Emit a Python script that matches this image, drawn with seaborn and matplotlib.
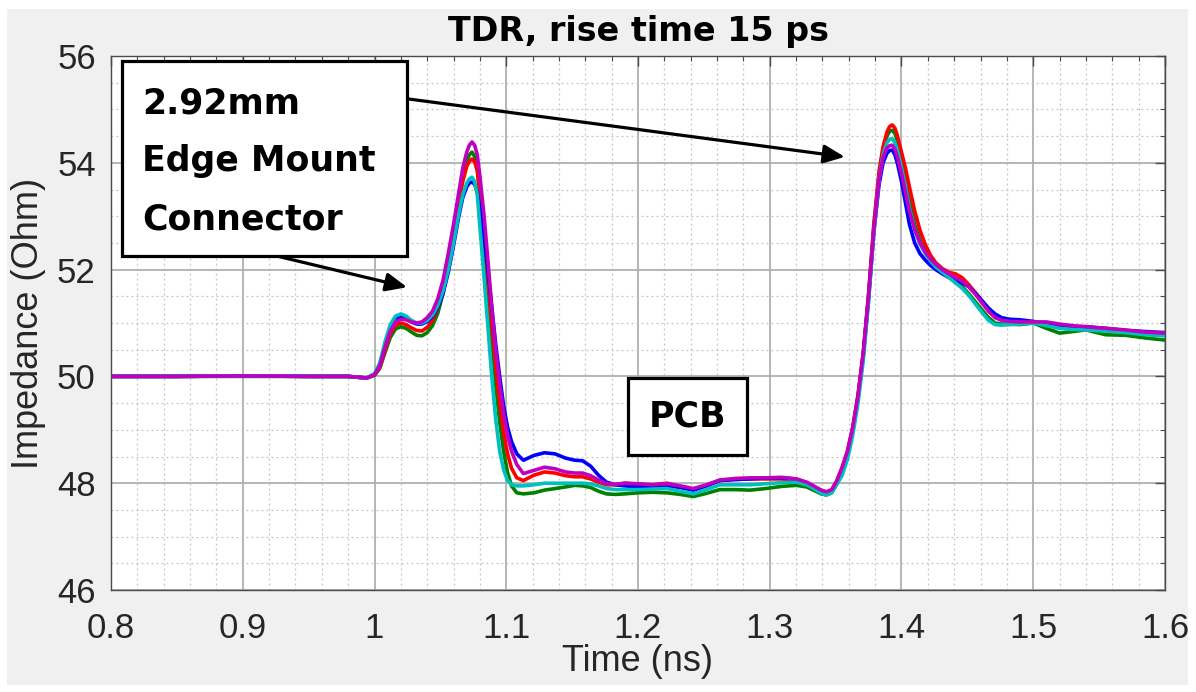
import numpy as np
import pandas as pd
import matplotlib
matplotlib.use("Agg")
import matplotlib.pyplot as plt
import seaborn as sns
from matplotlib.patches import Rectangle
from matplotlib.ticker import MultipleLocator

# ---------------- data ----------------
time_ns = [0.80, 0.85, 0.90, 0.95, 0.98, 0.994,
           1.000, 1.004, 1.008, 1.012, 1.016, 1.020, 1.024, 1.028, 1.032, 1.036,
           1.040, 1.044, 1.048, 1.052, 1.056, 1.060, 1.064, 1.067, 1.070, 1.072,
           1.074, 1.076, 1.078, 1.080, 1.083, 1.086, 1.089, 1.092, 1.095, 1.098,
           1.101, 1.104, 1.108, 1.113,
           1.121, 1.129, 1.137, 1.145, 1.152, 1.158, 1.164, 1.170, 1.176, 1.183,
           1.190, 1.200, 1.211, 1.222, 1.232, 1.242, 1.252, 1.262, 1.274, 1.285,
           1.297, 1.309, 1.320, 1.328, 1.334, 1.339, 1.343, 1.347, 1.351,
           1.355, 1.359, 1.363, 1.367, 1.371, 1.375, 1.379, 1.383, 1.386, 1.389,
           1.391, 1.393, 1.395, 1.397, 1.400, 1.403, 1.406, 1.410, 1.414, 1.418,
           1.422, 1.426, 1.431, 1.436, 1.441, 1.446, 1.451, 1.456, 1.461, 1.466,
           1.471, 1.476, 1.482, 1.490, 1.500,
           1.510, 1.520, 1.530, 1.540, 1.555, 1.570, 1.585, 1.600]

z_magenta = [50.0, 50.0, 50.01, 50.0, 50.0, 49.97,
             50.03, 50.2, 50.55, 50.85, 51.02, 51.07, 51.06, 51.02, 51.0, 51.02,
             51.1, 51.22, 51.45, 51.8, 52.3, 52.85, 53.45, 53.9, 54.2, 54.33,
             54.39, 54.33, 54.15, 53.75, 53.05, 52.2, 51.3, 50.5, 49.85, 49.3,
             48.9, 48.6, 48.35, 48.18,
             48.24, 48.3, 48.27, 48.21, 48.19, 48.19, 48.14, 48.06, 47.99, 47.98,
             48.0, 47.99, 47.97, 47.99, 47.95, 47.9, 47.97, 48.06, 48.09, 48.1,
             48.1, 48.11, 48.08, 48.02, 47.94, 47.87, 47.84, 47.88, 48.05,
             48.3, 48.6, 49.05, 49.65, 50.45, 51.5, 52.75, 53.7, 54.1, 54.28,
             54.32, 54.33, 54.25, 54.1, 53.8, 53.45, 53.1, 52.75, 52.5, 52.33,
             52.2, 52.1, 52.0, 51.92, 51.85, 51.78, 51.68, 51.54, 51.38, 51.22,
             51.1, 51.05, 51.03, 51.02, 51.02,
             51.02, 50.98, 50.95, 50.93, 50.9, 50.87, 50.83, 50.81]

z_cyan = [50.0, 50.0, 50.01, 50.0, 50.0, 49.97,
          50.05, 50.25, 50.65, 50.97, 51.13, 51.17, 51.13, 51.05, 51.0, 51.0,
          51.05, 51.15, 51.33, 51.6, 52.0, 52.5, 53.05, 53.4, 53.62, 53.7,
          53.73, 53.65, 53.4, 52.8, 51.9, 50.95, 50.0, 49.2, 48.6, 48.25,
          48.05, 47.97, 47.95, 47.95,
          47.97, 48.0, 48.0, 48.0, 48.0, 48.0, 47.99, 47.95, 47.9, 47.88,
          47.88, 47.88, 47.89, 47.9, 47.85, 47.8, 47.88, 47.97, 47.97, 47.97,
          47.99, 48.01, 48.02, 47.97, 47.89, 47.81, 47.78, 47.82, 47.98,
          48.15, 48.45, 48.9, 49.5, 50.3, 51.4, 52.7, 53.7, 54.15, 54.38,
          54.44, 54.45, 54.38, 54.22, 53.9, 53.55, 53.15, 52.75, 52.48, 52.3,
          52.16, 52.05, 51.95, 51.85, 51.75, 51.65, 51.52, 51.36, 51.2, 51.05,
          50.97, 50.96, 50.97, 50.98, 51.0,
          50.95, 50.9, 50.88, 50.87, 50.85, 50.82, 50.78, 50.76]

z_blue = [50.0, 50.0, 50.01, 50.0, 50.0, 49.97,
          50.04, 50.22, 50.6, 50.93, 51.08, 51.12, 51.09, 51.02, 50.98, 50.98,
          51.03, 51.12, 51.3, 51.55, 51.95, 52.45, 53.0, 53.35, 53.55, 53.62,
          53.64, 53.6, 53.45, 53.15, 52.65, 52.0, 51.3, 50.6, 50.0, 49.45,
          49.05, 48.78, 48.55, 48.43,
          48.52, 48.57, 48.55, 48.47, 48.43, 48.42, 48.32, 48.15, 48.02, 47.97,
          47.95, 47.93, 47.93, 47.95, 47.92, 47.87, 47.95, 48.05, 48.07, 48.08,
          48.1, 48.1, 48.08, 48.01, 47.93, 47.86, 47.83, 47.86, 48.02,
          48.25, 48.55, 49.0, 49.6, 50.4, 51.45, 52.7, 53.6, 54.0, 54.18,
          54.23, 54.24, 54.15, 53.98, 53.65, 53.25, 52.85, 52.5, 52.3, 52.18,
          52.08, 52.0, 51.92, 51.85, 51.8, 51.75, 51.68, 51.56, 51.42, 51.28,
          51.17, 51.1, 51.07, 51.06, 51.03,
          50.98, 50.95, 50.93, 50.93, 50.9, 50.86, 50.84, 50.82]

z_red = [50.0, 50.0, 50.01, 50.0, 50.0, 49.97,
         50.03, 50.17, 50.5, 50.8, 50.96, 51.0, 50.97, 50.91, 50.86, 50.85,
         50.92, 51.05, 51.28, 51.62, 52.1, 52.65, 53.25, 53.65, 53.93, 54.03,
         54.07, 54.02, 53.85, 53.4, 52.75, 51.9, 51.0, 50.2, 49.5, 48.95,
         48.55, 48.28, 48.1, 48.05,
         48.15, 48.21, 48.19, 48.14, 48.12, 48.12, 48.08, 48.02, 47.97, 47.97,
         48.0, 47.98, 47.97, 48.0, 47.94, 47.88, 47.96, 48.05, 48.07, 48.08,
         48.08, 48.08, 48.05, 48.0, 47.93, 47.86, 47.83, 47.87, 48.05,
         48.3, 48.6, 49.05, 49.65, 50.45, 51.55, 52.85, 53.85, 54.3, 54.58,
         54.68, 54.71, 54.65, 54.5, 54.2, 53.9, 53.55, 53.1, 52.74, 52.47,
         52.27, 52.13, 52.02, 51.95, 51.92, 51.85, 51.72, 51.57, 51.42, 51.27,
         51.15, 51.08, 51.04, 51.02, 51.02,
         51.0, 50.96, 50.93, 50.93, 50.88, 50.85, 50.82, 50.8]

z_green = [50.0, 50.0, 50.0, 50.0, 50.0, 49.97,
           50.02, 50.15, 50.45, 50.73, 50.89, 50.93, 50.9, 50.83, 50.77, 50.76,
           50.82, 50.95, 51.18, 51.55, 52.05, 52.65, 53.3, 53.72, 54.03, 54.15,
           54.2, 54.12, 53.92, 53.4, 52.6, 51.65, 50.7, 49.85, 49.15, 48.6,
           48.2, 47.95, 47.82, 47.8,
           47.82, 47.87, 47.9, 47.93, 47.96, 47.95, 47.92, 47.85, 47.8, 47.79,
           47.8, 47.82, 47.83, 47.82, 47.79, 47.75, 47.81, 47.88, 47.88, 47.87,
           47.9, 47.94, 47.96, 47.93, 47.86, 47.8, 47.78, 47.82, 48.0,
           48.25, 48.55, 49.0, 49.6, 50.4, 51.5, 52.8, 53.8, 54.25, 54.5,
           54.59, 54.61, 54.55, 54.4, 54.05, 53.7, 53.3, 52.85, 52.55, 52.35,
           52.2, 52.08, 51.97, 51.88, 51.78, 51.68, 51.55, 51.4, 51.25, 51.1,
           51.0, 50.98, 50.98, 50.97, 51.0,
           50.9, 50.81, 50.84, 50.87, 50.78, 50.77, 50.72, 50.68]

trace_names = ["green", "red", "blue", "cyan", "magenta"]   # drawing order
trace_values = {"blue": z_blue, "red": z_red, "green": z_green,
                "cyan": z_cyan, "magenta": z_magenta}
trace_colors = {"blue": "#0000ff", "red": "#ff0000", "green": "#008000",
                "cyan": "#00bfbf", "magenta": "#bf00bf"}

x_ticks = [0.8, 0.9, 1.0, 1.1, 1.2, 1.3, 1.4, 1.5, 1.6]
x_tick_labels = ["0.8", "0.9", "1", "1.1", "1.2", "1.3", "1.4", "1.5", "1.6"]
y_ticks = [46, 48, 50, 52, 54, 56]
y_tick_labels = ["46", "48", "50", "52", "54", "56"]

title_text = "TDR, rise time 15 ps"
x_label = "Time (ns)"
y_label = "Impedance (Ohm)"
connector_lines = ["2.92mm", "Edge Mount", "Connector"]
pcb_text = "PCB"

# ---------------- style ----------------
sns.set_style("white")
plt.rcParams["font.family"] = ["Liberation Sans", "DejaVu Sans"]

W, H = 1196, 692
fig = plt.figure(figsize=(W / 100, H / 100), dpi=100, facecolor="white")
bg = Rectangle((7 / W, 7 / H), 1181 / W, 676 / H, transform=fig.transFigure,
               facecolor="#f0f0f0", edgecolor="none", zorder=-10)
fig.patches.append(bg)
ax = fig.add_axes([111 / W, 102 / H, 1054 / W, 534 / H])
ax.set_zorder(1)
ax.set_facecolor("white")

df = pd.concat([pd.DataFrame({"t": time_ns, "z": trace_values[n], "trace": n})
                for n in trace_names], ignore_index=True)

sns.lineplot(data=df, x="t", y="z", hue="trace", hue_order=trace_names,
             palette=trace_colors, estimator=None, sort=False, legend=False,
             linewidth=2.6, solid_joinstyle="round", solid_capstyle="round", ax=ax)

ax.set_xlim(0.8, 1.6)
ax.set_ylim(46, 56)
ax.set_xticks(x_ticks)
ax.set_xticklabels(x_tick_labels)
ax.set_yticks(y_ticks)
ax.set_yticklabels(y_tick_labels)
ax.xaxis.set_minor_locator(MultipleLocator(0.02))
ax.yaxis.set_minor_locator(MultipleLocator(0.5))

ax.set_axisbelow(True)
ax.grid(which="major", color="#b0b0b0", linewidth=1.3, linestyle="-")
ax.grid(which="minor", color="#c4c4c4", linewidth=0.9, linestyle=(0, (1.5, 2.5)))

for s in ax.spines.values():
    s.set_color("#4a4a4a")
    s.set_linewidth(1.0)
    s.set_visible(True)

ax.tick_params(which="both", direction="in", top=True, right=True, color="#4a4a4a")
ax.tick_params(which="major", length=7, width=1.0)
ax.tick_params(which="minor", length=3.5, width=0.8)
ax.tick_params(axis="both", which="major", labelsize=25, labelcolor="#262626")
ax.tick_params(axis="y", which="major", pad=11)
ax.tick_params(axis="x", which="major", pad=16)

ax.set_xlabel(x_label, fontsize=26, color="#262626")
ax.set_ylabel(y_label, fontsize=26, color="#262626")
ax.xaxis.set_label_coords(0.5, -0.102)
ax.yaxis.set_label_coords(-0.062, 0.5)
ax.set_title(title_text, fontsize=24, fontweight="bold", color="black", pad=11,
             family=["DejaVu Sans"])

# ---------------- annotations ----------------
ax.add_patch(Rectangle((11 / 1054, 334 / 534), 285 / 1054, 195 / 534, transform=ax.transAxes,
                       facecolor="white", edgecolor="black", linewidth=2.3, zorder=6,
                       clip_on=False))
for i, line in enumerate(connector_lines):
    ax.text(31 / 1054, (590 - (113 + 58.5 * i)) / 534, line, transform=ax.transAxes,
            fontsize=25, fontweight="bold", color="black", ha="left", va="baseline",
            zorder=7, family=["DejaVu Sans"])

ax.add_patch(Rectangle((517 / 1054, 135 / 534), 119 / 1054, 77 / 534, transform=ax.transAxes,
                       facecolor="white", edgecolor="black", linewidth=2.3, zorder=6))
ax.text(576.5 / 1054, 173.5 / 534, pcb_text, transform=ax.transAxes, fontsize=25,
        fontweight="bold", color="black", ha="center", va="center", zorder=7,
        family=["DejaVu Sans"])

arrow_style = dict(arrowstyle="-|>,head_length=0.8,head_width=0.35", lw=2.3, color="black",
                   shrinkA=0, shrinkB=0, mutation_scale=16)
ax.annotate("", xy=(1.357, 54.11), xytext=(1.0, 55.28), arrowprops=arrow_style, zorder=5)
ax.annotate("", xy=(1.0247, 51.67), xytext=(0.918, 52.3), arrowprops=arrow_style, zorder=5)

fig.savefig("out.png", dpi=100, facecolor=fig.get_facecolor())
